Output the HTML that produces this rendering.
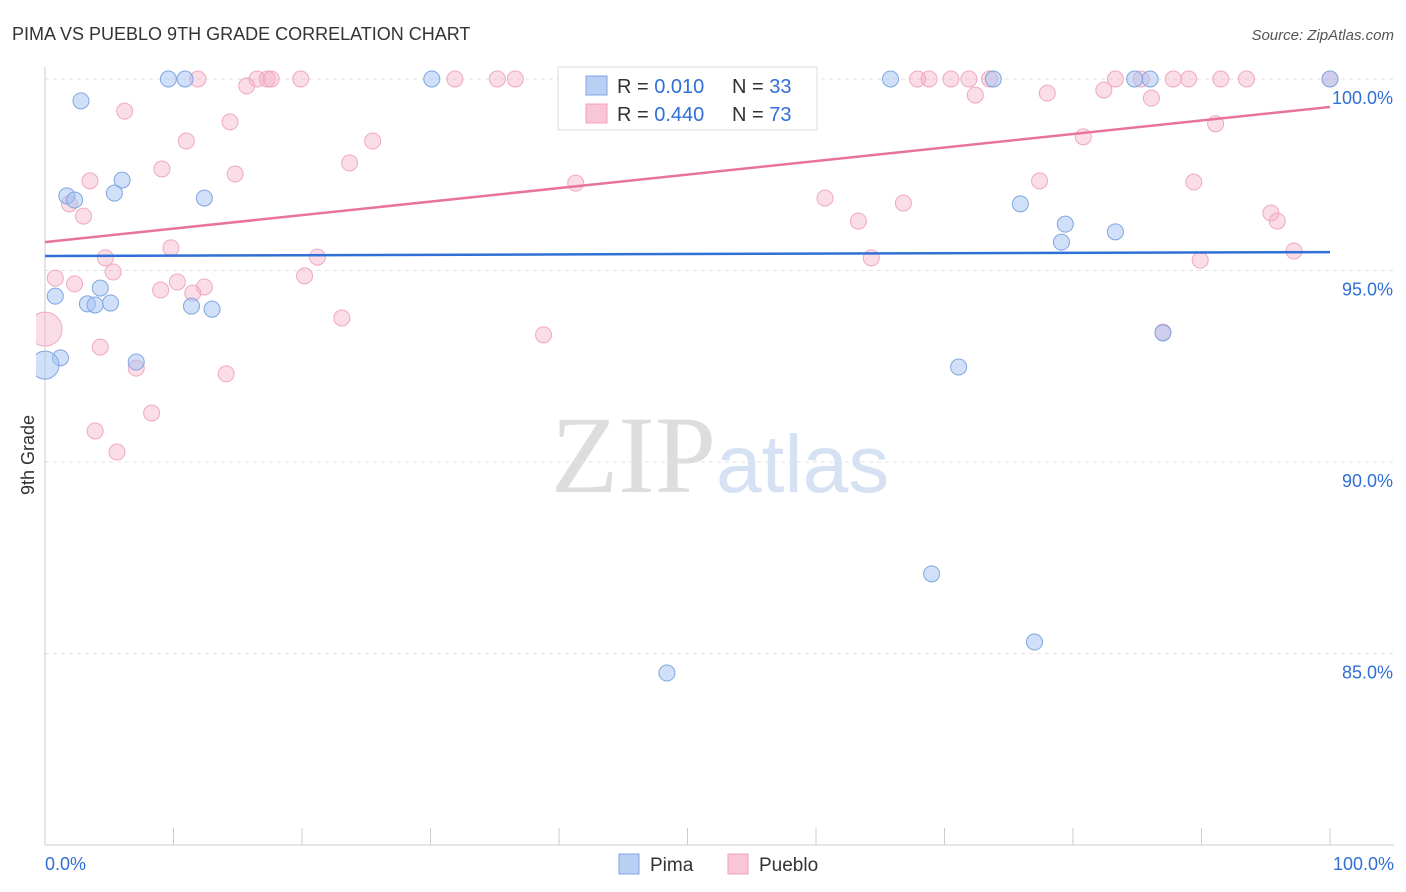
<!DOCTYPE html>
<html><head><meta charset="utf-8"><style>
body{margin:0;background:#fff;font-family:"Liberation Sans",sans-serif;}
svg{display:block}
</style></head><body>
<svg id="chart" width="1406" height="892">
<defs><clipPath id="plotclip"><rect x="36" y="55" width="1370" height="800"/></clipPath></defs>
<text x="12" y="40" font-size="18" fill="#333">PIMA VS PUEBLO 9TH GRADE CORRELATION CHART</text>
<text x="1394" y="40" font-size="15" fill="#555" font-style="italic" text-anchor="end">Source: ZipAtlas.com</text>
<text x="716" y="492" font-size="110" fill="#ddd" text-anchor="end" font-family="Liberation Serif">ZIP</text>
<text x="716" y="492" font-size="82" fill="#d6e2f4">atlas</text>
<g id="grid"></g>
<g id="axes"></g>
<g id="pts" clip-path="url(#plotclip)"></g>
<g id="lines"></g>
<text x="34" y="455" font-size="18" fill="#333" text-anchor="middle" transform="rotate(-90 34 455)">9th Grade</text>
<g>
<rect x="558" y="67" width="259" height="63" fill="#fff" stroke="#ddd"/>
<rect x="586" y="76" width="21" height="19" fill="#b8d0f4" stroke="#7fa6e0"/>
<rect x="586" y="104" width="21" height="19" fill="#f8c6d6" stroke="#f0a0bc"/>
<text x="617" y="93" font-size="20" fill="#333">R = <tspan fill="#2f6fd6">0.010</tspan></text>
<text x="732" y="93" font-size="20" fill="#333">N = <tspan fill="#2f6fd6">33</tspan></text>
<text x="617" y="121" font-size="20" fill="#333">R = <tspan fill="#2f6fd6">0.440</tspan></text>
<text x="732" y="121" font-size="20" fill="#333">N = <tspan fill="#2f6fd6">73</tspan></text>
</g>
<g>
<rect x="619" y="854" width="20" height="20" fill="#b8d0f4" stroke="#7fa6e0"/>
<text x="650" y="871" font-size="19" fill="#333">Pima</text>
<rect x="728" y="854" width="20" height="20" fill="#f8c6d6" stroke="#f0a0bc"/>
<text x="759" y="871" font-size="19" fill="#333">Pueblo</text>
</g>
</svg>
<script>
const pimaX=[9.6,10.9,30.1,65.8,73.8,84.8,86.0,100,2.8,6.0,5.4,1.7,2.3,12.4,0.8,4.3,3.3,3.9,5.1,11.4,13.0,1.2,0,7.1,71.1,75.9,79.4,79.1,83.3,87.0,69.0,77.0,48.4];
const pimaY=[100,100,100,100,100,100,100,100,99.43,97.36,97.02,96.95,96.84,96.89,94.33,94.54,94.13,94.10,94.15,94.07,93.99,92.72,92.53,92.61,92.48,96.74,96.21,95.74,96.01,93.37,87.08,85.30,84.49];
const pimaR=[8,8,8,8,8,8,8,8,8,8,8,8,8,8,8,8,8,8,8,8,8,8,14,8,8,8,8,8,8,8,8,8,8];
const puebloX=[11.9,16.5,17.3,17.6,19.9,31.9,35.2,36.6,42.3,46.9,67.9,68.8,70.5,71.9,73.5,83.3,85.3,87.8,89.0,91.5,93.5,100,15.7,72.4,78.0,82.4,86.1,6.2,14.4,11.0,25.5,91.1,80.8,23.7,9.1,14.8,3.5,41.3,77.4,89.4,1.9,3.0,60.7,66.8,63.3,95.4,95.9,9.8,97.2,4.7,21.2,64.3,89.9,5.3,20.2,0.8,2.3,10.3,9.0,12.4,11.5,23.1,0,38.8,4.3,87.0,7.1,14.1,8.3,3.9,5.6];
const puebloY=[100,100,100,100,100,100,100,100,100,100,100,100,100,100,100,100,100,100,100,100,100,100,99.82,99.58,99.63,99.71,99.50,99.16,98.88,98.38,98.38,98.83,98.49,97.81,97.65,97.52,97.34,97.28,97.34,97.31,96.74,96.42,96.89,96.76,96.29,96.50,96.29,95.59,95.51,95.33,95.35,95.33,95.27,94.96,94.86,94.80,94.65,94.70,94.49,94.57,94.41,93.76,93.47,93.32,93.00,93.39,92.45,92.30,91.28,90.81,90.26];
const trendPima=[95.38,95.48];
const trendPueblo=[95.74,99.27];
const yTicks=[100,95,90,85];
const yTickLabels=["100.0%","95.0%","90.0%","85.0%"];
const NS="http://www.w3.org/2000/svg";
const sx=v=>45+v*12.85, sy=v=>79+(100-v)*38.3;
function mk(p,t,a){const e=document.createElementNS(NS,t);for(const k in a)e.setAttribute(k,a[k]);p.appendChild(e);return e;}
const grid=document.getElementById('grid'),axes=document.getElementById('axes'),pts=document.getElementById('pts'),lines=document.getElementById('lines');
yTicks.forEach((t,i)=>{
 const l=mk(grid,'line',{x1:45,x2:1394,y1:sy(t),y2:sy(t),stroke:'#e2e2e2','stroke-dasharray':'4 4'});
 
 
 const tx=mk(axes,'text',{x:1393,y:sy(t)+25,'font-size':18,fill:'#2f6fd6','text-anchor':'end'});tx.textContent=yTickLabels[i];
 
 
});
const ax=mk(axes,'line',{x1:45,x2:1394,y1:845,y2:845,stroke:'#ccc'});


const ay=mk(axes,'line',{x1:45,x2:45,y1:67,y2:845,stroke:'#ccc'});


for(let i=0;i<=10;i++){const t=mk(axes,'line',{x1:sx(i*10),x2:sx(i*10),y1:828,y2:845,stroke:'#ccc'});
 
 }
[[0,"0.0%",'start',45],[100,"100.0%",'end',1394]].forEach(d=>{const t=mk(axes,'text',{x:d[3],y:870,'font-size':18,fill:'#2f6fd6','text-anchor':d[2]});t.textContent=d[1];
 
 });
puebloX.forEach((x,i)=>{const c=mk(pts,'circle',{cx:sx(x),cy:sy(puebloY[i]),r:(x===0&&puebloY[i]<94)?17:8,fill:'rgba(244,170,196,0.4)',stroke:'#f0a8c2','stroke-width':1});
 
 });
pimaX.forEach((x,i)=>{const c=mk(pts,'circle',{cx:sx(x),cy:sy(pimaY[i]),r:pimaR[i],fill:'rgba(164,194,244,0.5)',stroke:'#7fa6e0','stroke-width':1});
 
 });
const lp=mk(lines,'line',{x1:sx(0),x2:sx(100),y1:sy(trendPima[0]),y2:sy(trendPima[1]),stroke:'#2f6fd6','stroke-width':2.5});


const lq=mk(lines,'line',{x1:sx(0),x2:sx(100),y1:sy(trendPueblo[0]),y2:sy(trendPueblo[1]),stroke:'#e8739b','stroke-width':2.5});


</script>
</body></html>
